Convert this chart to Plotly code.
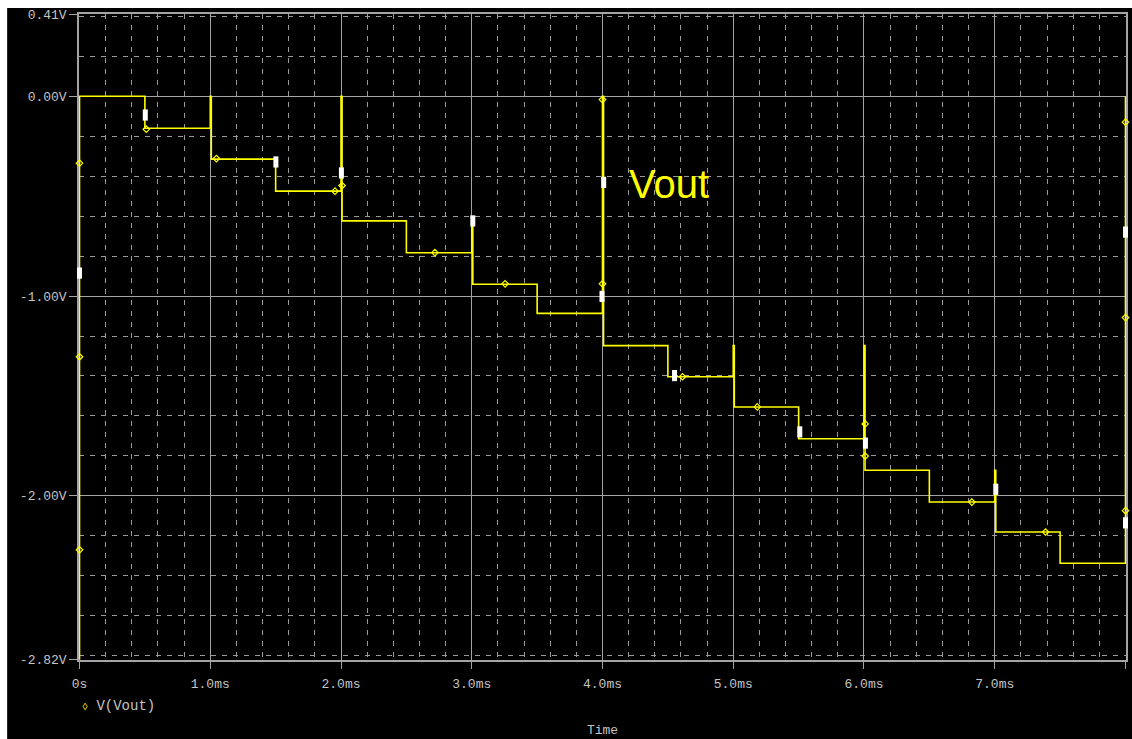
import plotly.graph_objects as go

# Staircase output: one level per 0.5 ms slot (volts)
step_ms = 0.5
levels_v = [0.0, -0.160, -0.315, -0.475, -0.624, -0.783, -0.941, -1.087,
            -1.248, -1.404, -1.555, -1.714, -1.872, -2.031, -2.181, -2.337]
start_v = -2.82          # initial sample at t = 0
end_t_ms = 8.0
end_v = 0.0              # counter wraps back to zero

# Switching glitches at the whole-millisecond transitions
glitch_t_ms = [1.0, 2.0, 3.0, 4.0, 5.0, 6.0, 7.0]
glitch_peak_v = [0.0, 0.0, -0.624, 0.0, -1.248, -1.248, -1.872]
glitch_width_ms = 0.008

# Trace identification symbols along V(Vout)
symbol_t_ms = [0.0, 0.0, 0.0, 0.511, 1.047, 1.954, 2.008, 2.718, 3.255, 4.0,
               4.0, 4.612, 5.184, 6.009, 6.009, 6.825, 7.389, 8.0, 8.0, 8.0]
symbol_v = [-0.335, -1.304, -2.27, -0.165, -0.312, -0.475, -0.447, -0.783,
            -0.939, -0.017, -0.939, -1.404, -1.555, -1.640, -1.801, -2.031,
            -2.181, -0.130, -1.108, -2.074]

# Data-point marks
point_t_ms = [0.503, 1.502, 2.003, 3.008, 0.0, 4.009, 3.996, 4.551, 5.509,
              6.011, 7.008, 8.0, 8.0]
point_v = [-0.094, -0.329, -0.384, -0.624, -0.885, -0.431, -1.002, -1.398,
           -1.680, -1.736, -1.967, -2.135, -0.680]

# Axis ticks
x_ticks = [0, 1, 2, 3, 4, 5, 6, 7, 8]
x_ticktext = ["0s", "1.0ms", "2.0ms", "3.0ms", "4.0ms", "5.0ms", "6.0ms",
              "7.0ms", "8.0ms" + "\u00a0" * 5]
y_ticks = [0.41, 0.0, -1.0, -2.0, -2.82]
y_ticktext = ["0.41V", "0.00V", "-1.00V", "-2.00V", "-2.82V"]

# Build the waveform path from the levels and glitches
t = [0.0, 0.0]
v = [start_v, levels_v[0]]
glitches = dict(zip(glitch_t_ms, glitch_peak_v))
for i in range(1, len(levels_v)):
    T = i * step_ms
    t.append(T)
    v.append(levels_v[i - 1])
    if T in glitches:
        t += [T, T + glitch_width_ms]
        v += [glitches[T], glitches[T]]
        T += glitch_width_ms
    t.append(T)
    v.append(levels_v[i])
t += [end_t_ms, end_t_ms]
v += [levels_v[-1], end_v]

YELLOW = "#ffff00"
GRID = "#a4a4a4"
MINOR = "#9a9a9a"
TEXT = "#c4c4c4"
MONO = "Liberation Mono"

fig = go.Figure()
fig.add_trace(go.Scatter(x=t, y=v, mode="lines", name="V(Vout)",
                         line=dict(color=YELLOW, width=1.6),
                         hoverinfo="skip"))
fig.add_trace(go.Scatter(x=symbol_t_ms, y=symbol_v, mode="markers",
                         marker=dict(symbol="diamond-open", size=5,
                                     color=YELLOW,
                                     line=dict(color=YELLOW, width=1.2)),
                         cliponaxis=False, hoverinfo="skip"))
fig.add_trace(go.Scatter(x=point_t_ms, y=point_v, mode="markers",
                         marker=dict(symbol="line-ns", size=8,
                                     line=dict(color="white", width=5)),
                         cliponaxis=False, hoverinfo="skip"))

W, H = 1132, 739
L, R, T_, B = 79, 4, 14, 73
pw, ph = W - L - R, H - T_ - B

fig.update_layout(
    width=W, height=H,
    margin=dict(l=L, r=R, t=T_, b=B, pad=0),
    paper_bgcolor="black", plot_bgcolor="black",
    showlegend=False,
    font=dict(family=MONO, size=13, color=TEXT),
    xaxis=dict(
        range=[-0.004, 8.004], tickmode="array", tickvals=x_ticks,
        ticktext=x_ticktext, ticks="outside", ticklen=7, tickwidth=1,
        tickcolor=GRID, showline=True, linecolor=GRID, linewidth=1.5,
        mirror=True, showgrid=True, gridcolor=GRID, gridwidth=1,
        zeroline=False, layer="below traces", ticklabelstandoff=4,
        tickfont=dict(family=MONO, size=13, color=TEXT),
        minor=dict(tickmode="linear", tick0=0, dtick=0.2, showgrid=True,
                   gridcolor=MINOR, gridwidth=1, griddash="5px,6px"),
        title=dict(text="Time", standoff=34,
                   font=dict(family=MONO, size=13, color=TEXT)),
    ),
    yaxis=dict(
        range=[-2.8215, 0.4115], tickmode="array", tickvals=y_ticks,
        ticktext=y_ticktext, ticks="outside", ticklen=8, tickwidth=1,
        tickcolor=GRID, showline=True, linecolor=GRID, linewidth=1.5,
        mirror=True, showgrid=True, gridcolor=GRID, gridwidth=1,
        zeroline=False, layer="below traces",
        tickfont=dict(family=MONO, size=13, color=TEXT),
        minor=dict(tickmode="linear", tick0=0, dtick=0.2, showgrid=True,
                   gridcolor=MINOR, gridwidth=1, griddash="5px,6px"),
    ),
    annotations=[
        dict(text="Vout", x=4.19, y=-0.44, xref="x", yref="y",
             xanchor="left", yanchor="middle", showarrow=False,
             font=dict(family="Liberation Sans", size=40, color=YELLOW)),
        dict(text="<span style='color:#ffff00;font-size:10px'>\u25ca</span> V(Vout)",
             x=(80 - L) / pw, y=(H - B - 712) / ph, xref="paper", yref="paper",
             xanchor="left", yanchor="middle", showarrow=False,
             font=dict(family=MONO, size=14, color=TEXT)),
    ],
    shapes=[
        # window edges
        dict(type="rect", xref="paper", yref="paper", layer="above",
             x0=-L / pw - 0.01, x1=(7 - L) / pw, y0=-0.5, y1=1.5,
             fillcolor="white", line=dict(width=0)),
        dict(type="rect", xref="paper", yref="paper", layer="above",
             x0=-0.2, x1=1.2, y0=(H - B - 8) / ph, y1=1.5,
             fillcolor="white", line=dict(width=0)),
    ],
)

fig.write_html("out.html")
